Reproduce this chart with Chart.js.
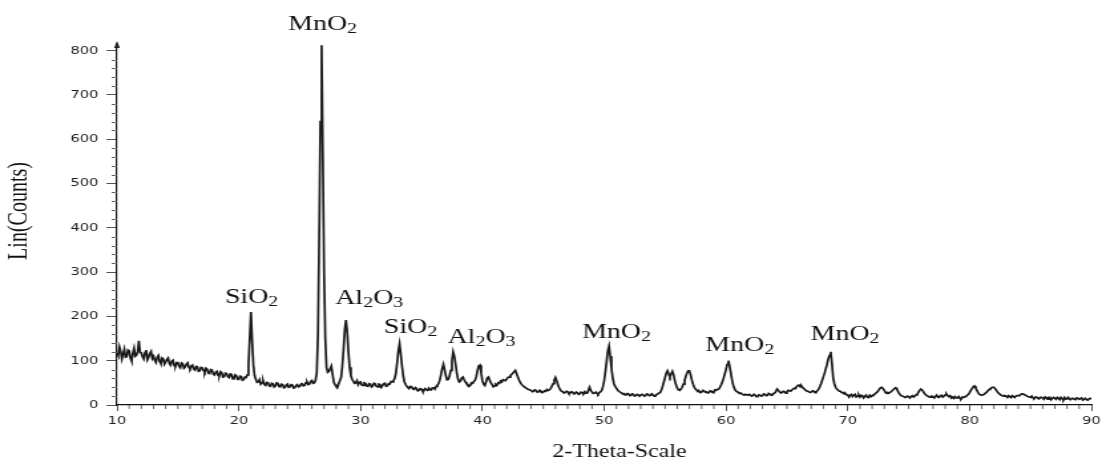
<!DOCTYPE html>
<html>
<head>
<meta charset="utf-8">
<title>XRD pattern</title>
<script src="https://cdn.jsdelivr.net/npm/chart.js@4.4.1/dist/chart.umd.min.js"></script>
<style>
  html, body { margin: 0; padding: 0; background: #fff; overflow: hidden; }
  /* the plot is laid out on a narrower canvas and widened, giving the broad lettering of the diffractometer export */
  #wrap { position: absolute; left: 0; top: 0; width: 832px; height: 466px;
          transform: scaleX(1.3293); transform-origin: 0 0; }
</style>
</head>
<body>
<div id="wrap"><canvas id="xrd"></canvas></div>
<script>
// Scan settings: first 2θ position and step width (degrees)
const scanStart = 10;
const scanStep = 0.1;

// Intensity (Lin counts), one row per degree: 2θ = n.0 … n.9
const counts = [
  118, 112, 131, 121, 104, 115, 126, 108, 109, 124,   // 10
  122, 106,  99, 117, 128, 110, 112, 121, 145, 118,   // 11
  118, 109, 104, 119, 124, 102, 108, 116, 121, 105,   // 12
  110, 101,  96, 108, 112,  98,  93, 106, 104,  92,   // 13
   97, 103, 106,  94,  90,  99, 101,  89,  88,  96,   // 14
   96,  87,  84,  95,  93,  83,  86,  92,  95,  85,   // 15
   82,  88,  90,  81,  79,  87,  86,  76,  77,  85,   // 16
   84,  78,  74,  83,  81,  72,  71,  80,  79,  70,   // 17
   68,  74,  76,  67,  66,  75,  73,  63,  64,  72,   // 18
   71,  64,  62,  70,  69,  59,  60,  68,  66,  58,   // 19
   58,  65,  64,  56,  57,  63,  62,  68,  92, 150,   // 20
  210, 145,  90,  66,  58,  51,  52,  57,  47,  50,   // 21
   55,  46,  44,  51,  50,  43,  42,  49,  48,  41,   // 22
   43,  50,  49,  42,  41,  47,  46,  39,  40,  45,   // 23
   47,  40,  41,  46,  45,  38,  39,  44,  46,  41,   // 24
   42,  47,  48,  43,  44,  50,  52,  46,  47,  53,   // 25
   55,  49,  50,  56,  72, 160, 380, 640, 812, 560,   // 26
  300, 150,  85,  74,  76,  82,  88,  70,  52,  46,   // 27
   42,  40,  48,  55,  62,  88, 125, 170, 192, 165,   // 28
  120,  85,  66,  58,  54,  49,  50,  55,  46,  51,   // 29
   52,  45,  44,  50,  49,  43,  42,  48,  47,  41,   // 30
   43,  49,  48,  42,  41,  47,  46,  40,  44,  48,   // 31
   49,  42,  43,  48,  47,  53,  52,  55,  60,  72,   // 32
   95, 122, 138, 115,  88,  66,  52,  46,  42,  39,   // 33
   38,  42,  41,  36,  35,  39,  37,  32,  33,  37,   // 34
   36,  31,  32,  37,  35,  33,  38,  34,  34,  39,   // 35
   39,  36,  42,  45,  48,  56,  68,  82,  92,  80,   // 36
   66,  57,  58,  65,  78, 100, 120, 110,  92,  72,   // 37
   58,  52,  54,  61,  63,  57,  52,  48,  46,  42,   // 38
   44,  50,  49,  53,  56,  64,  78,  88,  90,  72,   // 39
   55,  47,  44,  52,  61,  63,  56,  50,  46,  41,   // 40
   43,  47,  45,  50,  49,  54,  52,  57,  56,  55,   // 41
   59,  62,  63,  67,  69,  72,  75,  78,  71,  64,   // 42
   57,  51,  47,  44,  42,  40,  38,  36,  35,  34,   // 43
   33,  30,  31,  34,  33,  29,  30,  33,  32,  28,   // 44
   29,  32,  31,  35,  33,  34,  37,  42,  48,  56,   // 45
   62,  55,  46,  39,  34,  31,  30,  27,  28,  31,   // 46
   30,  26,  27,  30,  29,  25,  26,  29,  28,  24,   // 47
   25,  29,  28,  26,  30,  27,  27,  33,  40,  33,   // 48
   29,  26,  27,  29,  26,  24,  28,  30,  33,  42,   // 49
   55,  75,  98, 122, 133, 110,  82,  62,  48,  42,   // 50
   38,  34,  31,  29,  28,  25,  26,  23,  24,  26,   // 51
   25,  21,  22,  25,  24,  20,  21,  24,  23,  20,   // 52
   20,  24,  23,  20,  21,  25,  24,  21,  22,  25,   // 53
   23,  20,  21,  24,  25,  27,  28,  34,  42,  52,   // 54
   62,  72,  77,  70,  64,  70,  76,  68,  55,  45,   // 55
   38,  34,  33,  36,  40,  47,  55,  65,  72,  77,   // 56
   77,  68,  56,  47,  40,  36,  33,  30,  31,  28,   // 57
   29,  33,  32,  29,  30,  27,  28,  32,  31,  28,   // 58
   30,  34,  33,  35,  36,  40,  45,  52,  60,  70,   // 59
   80,  92, 100,  88,  72,  56,  44,  37,  32,  30,   // 60
   29,  26,  27,  25,  25,  22,  24,  23,  22,  24,   // 61
   23,  20,  21,  24,  22,  19,  20,  23,  22,  20,   // 62
   21,  25,  24,  21,  22,  26,  25,  22,  23,  26,   // 63
   27,  31,  36,  33,  30,  27,  28,  31,  30,  27,   // 64
   29,  33,  32,  31,  34,  36,  38,  37,  42,  44,   // 65
   45,  41,  43,  39,  37,  34,  32,  31,  30,  28,   // 66
   29,  32,  31,  28,  30,  32,  36,  41,  48,  56,   // 67
   64,  72,  82,  92, 104, 112, 120,  95,  62,  48,   // 68
   40,  36,  34,  31,  31,  28,  28,  25,  26,  23,   // 69
   23,  18,  22,  24,  19,  22,  24,  18,  20,  23,   // 70
   18,  22,  21,  16,  19,  22,  18,  17,  22,  19,   // 71
   21,  23,  24,  27,  29,  32,  36,  39,  40,  37,   // 72
   33,  28,  26,  28,  27,  29,  31,  34,  36,  39,   // 73
   38,  32,  27,  23,  21,  20,  19,  17,  18,  20,   // 74
   19,  16,  19,  21,  18,  20,  23,  24,  29,  33,   // 75
   36,  34,  30,  26,  23,  21,  20,  18,  18,  20,   // 76
   19,  16,  19,  22,  18,  17,  21,  22,  18,  20,   // 77
   23,  25,  21,  19,  21,  16,  18,  15,  19,  16,   // 78
   16,  19,  15,  14,  18,  17,  19,  19,  22,  24,   // 79
   28,  33,  37,  41,  43,  38,  33,  28,  24,  23,   // 80
   22,  23,  24,  27,  29,  32,  35,  37,  39,  40,   // 81
   40,  37,  33,  29,  26,  24,  22,  21,  20,  21,   // 82
   20,  17,  21,  19,  17,  21,  19,  17,  20,  21,   // 83
   21,  22,  24,  25,  25,  23,  22,  20,  19,  18,   // 84
   17,  20,  16,  15,  18,  18,  15,  14,  17,  17,   // 85
   16,  13,  18,  16,  13,  17,  17,  12,  15,  17,   // 86
   15,  13,  17,  15,  12,  17,  14,  12,  17,  13,   // 87
   14,  17,  13,  12,  15,  15,  13,  12,  16,  15,   // 88
   13,  15,  16,  11,  13,  15,  12,  11,  14,  15,   // 89
   13                                                  // 90
];

// Axis tick labels
const thetaTicks = [10, 20, 30, 40, 50, 60, 70, 80, 90];
const countTicks = [0, 100, 200, 300, 400, 500, 600, 700, 800];

// Phase identification labels, placed at (2θ, counts) of the label baseline centre
const phaseNames  = ['MnO2', 'SiO2', 'Al2O3', 'SiO2', 'Al2O3', 'MnO2', 'MnO2', 'MnO2'];
const phaseTheta  = [26.88, 21.05, 30.71, 34.10, 39.93, 51.02, 61.13, 69.77];
const phaseCounts = [847, 230, 228, 163, 140, 151, 122, 147];

const pattern = counts.map((c, i) => ({ x: +(scanStart + i * scanStep).toFixed(1), y: c }));

const SERIF = '"Liberation Serif", "Times New Roman", serif';

// chemical formula with subscript digits, centred on cx
function drawFormula(ctx, text, cx, baseY, size) {
  const runs = text.match(/[A-Za-z]+|\d+/g);
  const subSize = Math.round(size * 0.7);
  const fontFor = r => /\d/.test(r) ? `${subSize}px ${SERIF}` : `${size}px ${SERIF}`;
  let w = 0;
  runs.forEach(r => { ctx.font = fontFor(r); w += ctx.measureText(r).width; });
  let x = cx - w / 2;
  runs.forEach(r => {
    ctx.font = fontFor(r);
    const dy = /\d/.test(r) ? size * 0.14 : 0;
    ctx.fillText(r, x, baseY + dy);
    x += ctx.measureText(r).width;
  });
}

const decor = {
  id: 'decor',
  afterDraw(chart) {
    const { ctx, chartArea: a, scales: { x, y } } = chart;
    ctx.save();
    // minor ticks
    ctx.strokeStyle = '#666';
    ctx.lineWidth = 1;
    ctx.beginPath();
    for (let v = 20; v < 815; v += 20) {
      if (v % 100 === 0) continue;
      const py = Math.round(y.getPixelForValue(v)) + 0.5;
      ctx.moveTo(a.left - 4, py); ctx.lineTo(a.left, py);
    }
    for (let v = 11; v < 90; v++) {
      if (v % 10 === 0) continue;
      const px = x.getPixelForValue(v);
      ctx.moveTo(px, a.bottom); ctx.lineTo(px, a.bottom + 4);
    }
    ctx.stroke();
    // arrowhead on the intensity axis
    ctx.fillStyle = '#222';
    ctx.beginPath();
    ctx.moveTo(a.left, a.top - 3);
    ctx.lineTo(a.left - 2.2, a.top + 4);
    ctx.lineTo(a.left + 2.2, a.top + 4);
    ctx.closePath();
    ctx.fill();
    // phase labels
    ctx.fillStyle = '#111';
    ctx.textAlign = 'left';
    ctx.textBaseline = 'alphabetic';
    phaseNames.forEach((n, i) => {
      drawFormula(ctx, n, x.getPixelForValue(phaseTheta[i]), y.getPixelForValue(phaseCounts[i]), 21);
    });
    // axis titles
    ctx.font = `18px ${SERIF}`;
    ctx.textAlign = 'center';
    ctx.fillText('2-Theta-Scale', 466, 457);
    ctx.save();
    ctx.translate(20, 211);
    ctx.rotate(-Math.PI / 2);
    ctx.font = `20px ${SERIF}`;
    ctx.fillText('Lin(Counts)', 0, 0);
    ctx.restore();
    ctx.restore();
  }
};

new Chart(document.getElementById('xrd'), {
  type: 'line',
  data: {
    datasets: [{
      data: pattern,
      borderColor: '#1a1a1a',
      borderWidth: 1.7,
      pointRadius: 0,
      tension: 0,
      fill: false
    }]
  },
  options: {
    responsive: true,
    maintainAspectRatio: false,
    animation: false,
    parsing: false,
    layout: { padding: { top: 44, right: 6, bottom: 0, left: 0 } },
    plugins: { legend: { display: false }, tooltip: { enabled: false } },
    scales: {
      x: {
        type: 'linear',
        min: 10, max: 90,
        afterBuildTicks: s => { s.ticks = thetaTicks.map(v => ({ value: v })); },
        afterFit: s => { s.height = 61; },
        grid: { drawOnChartArea: false, drawTicks: true, tickLength: 6, tickColor: '#555' },
        border: { display: true, color: '#111', width: 1.2 },
        ticks: { font: { family: 'DejaVu Sans', size: 11 }, color: '#222', padding: 4,
                 maxRotation: 0, autoSkip: false }
      },
      y: {
        type: 'linear',
        min: 0, max: 815,
        afterBuildTicks: s => { s.ticks = countTicks.map(v => ({ value: v })); },
        afterFit: s => { s.width = 88; },
        grid: { drawOnChartArea: false, drawTicks: true, tickLength: 8, tickColor: '#555' },
        border: { display: true, color: '#111', width: 1.2 },
        ticks: { font: { family: 'DejaVu Sans', size: 11 }, color: '#222', padding: 6 }
      }
    }
  },
  plugins: [decor]
});
</script>
</body>
</html>
